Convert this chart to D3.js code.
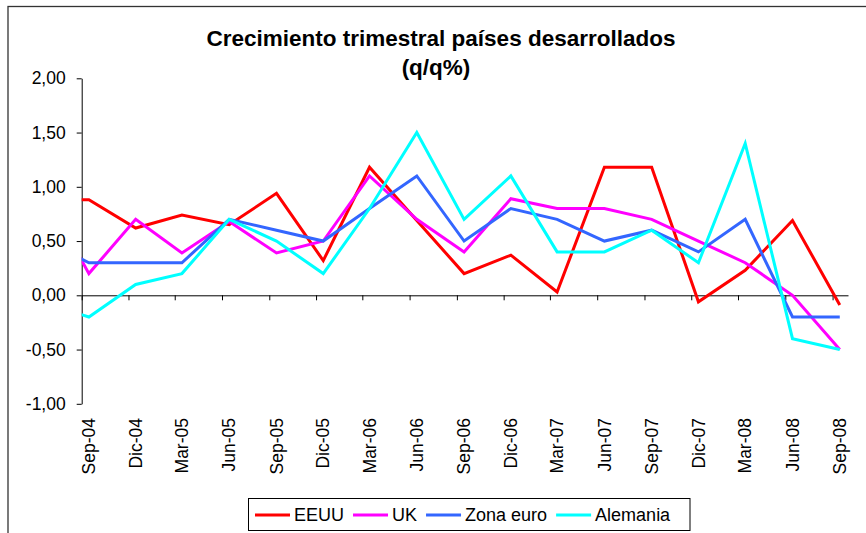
<!DOCTYPE html>
<html>
<head>
<meta charset="utf-8">
<script src="https://cdn.jsdelivr.net/npm/d3@7"></script>
<style>
  body { margin: 0; background: #fff; }
  svg { display: block; font-family: "Liberation Sans", Arial, sans-serif; }
</style>
</head>
<body>
<svg></svg>
<script>
var width = 866;
var height = 533;

// quarters (the first one sits before the axis start and is clipped)
var quarters = ["Jun-04","Sep-04","Dic-04","Mar-05","Jun-05","Sep-05","Dic-05","Mar-06","Jun-06",
                "Sep-06","Dic-06","Mar-07","Jun-07","Sep-07","Dic-07","Mar-08","Jun-08","Sep-08"];
var tickLabels = quarters.slice(1);
var yTicks = [-1, -0.5, 0, 0.5, 1, 1.5, 2];

var eeuu     = [0.88, 0.88, 0.62, 0.74, 0.65, 0.94, 0.32, 1.18, 0.69, 0.20, 0.37, 0.03, 1.18, 1.18, -0.06, 0.23, 0.69, -0.09];
var uk       = [1.00, 0.20, 0.70, 0.39, 0.68, 0.39, 0.50, 1.10, 0.70, 0.40, 0.89, 0.80, 0.80, 0.70, 0.50, 0.30, 0.00, -0.50];
var zonaEuro = [0.52, 0.30, 0.30, 0.30, 0.70, 0.60, 0.50, 0.80, 1.10, 0.50, 0.80, 0.70, 0.50, 0.60, 0.40, 0.70, -0.20, -0.20];
var alemania = [-0.06, -0.20, 0.10, 0.20, 0.70, 0.50, 0.20, 0.80, 1.50, 0.70, 1.10, 0.40, 0.40, 0.60, 0.30, 1.40, -0.40, -0.50];

var seriesNames = ["EEUU", "UK", "Zona euro", "Alemania"];
var seriesValues = [eeuu, uk, zonaEuro, alemania];
var colors = ["#ff0000", "#ff00ff", "#3366ff", "#00ffff"];

var monthIndex = {Mar: 2, Jun: 5, Sep: 8, Dic: 11};
function parseQuarter(s, day){
    var parts = s.split("-");
    return new Date(2000 + (+parts[1]), monthIndex[parts[0]], day);
}

var xScale = d3.scaleTime()
                .domain([new Date(2004, 8, 1), new Date(2008, 9, 1)])
                .range([81.7, 848]);
var yScale = d3.scaleLinear()
                .domain([-1, 2])
                .range([403.8, 78.3]);

var svg = d3.select("svg")
    .attr("width", width)
    .attr("height", height);

// outer frame
svg.append("rect")
    .attr("x", 8)
    .attr("y", 6.5)
    .attr("width", width)
    .attr("height", height)
    .attr("fill", "#fff")
    .attr("stroke", "#333")
    .attr("stroke-width", 1.3);

svg.append("defs").append("clipPath")
    .attr("id", "plot")
    .append("rect")
    .attr("x", xScale.range()[0])
    .attr("y", 0)
    .attr("width", xScale.range()[1] - xScale.range()[0])
    .attr("height", height);

// title
svg.append("text")
    .attr("x", 441)
    .attr("y", 46)
    .attr("text-anchor", "middle")
    .attr("font-weight", "bold")
    .attr("font-size", 22.5)
    .text("Crecimiento trimestral países desarrollados");
svg.append("text")
    .attr("x", 436)
    .attr("y", 75)
    .attr("text-anchor", "middle")
    .attr("font-weight", "bold")
    .attr("font-size", 22.5)
    .text("(q/q%)");

// y axis
var yAxis = d3.axisLeft(yScale)
                .tickValues(yTicks)
                .tickSize(5)
                .tickPadding(11)
                .tickSizeOuter(0)
                .tickFormat(d => d.toFixed(2).replace(".", ","));
var gy = svg.append("g")
    .attr("transform", `translate(${xScale.range()[0]},0)`)
    .call(yAxis);
gy.selectAll("text").attr("font-size", 17.5).attr("font-family", null).attr("fill", "#000");
gy.selectAll("line, path").attr("stroke", "#000");

// x axis at zero, tick marks at quarter starts
var xAxis = d3.axisBottom(xScale)
                .tickValues(tickLabels.map(q => parseQuarter(q, 1)))
                .tickSize(5)
                .tickSizeOuter(0)
                .tickFormat("");
var gx = svg.append("g")
    .attr("transform", `translate(0,${yScale(0)})`)
    .call(xAxis);
gx.selectAll("line, path").attr("stroke", "#000");

// rotated category labels
svg.append("g")
    .selectAll("text")
    .data(tickLabels)
    .enter()
    .append("text")
    .attr("transform", d => `translate(${xScale(parseQuarter(d, 15))},418) rotate(-90)`)
    .attr("dy", "0.35em")
    .attr("text-anchor", "end")
    .attr("font-size", 17.5)
    .text(d => d);

// lines
var line = d3.line()
    .x((d, i) => xScale(parseQuarter(quarters[i], 15)))
    .y(d => yScale(d));

svg.append("g")
    .attr("clip-path", "url(#plot)")
    .selectAll("path")
    .data(seriesValues)
    .enter()
    .append("path")
    .attr("d", d => line(d))
    .attr("fill", "none")
    .attr("stroke", (d, i) => colors[i])
    .attr("stroke-width", 3)
    .attr("stroke-linejoin", "miter");

// legend
var legend = svg.append("g");
legend.append("rect")
    .attr("x", 248.5)
    .attr("y", 498.5)
    .attr("width", 441.5)
    .attr("height", 32)
    .attr("fill", "#fff")
    .attr("stroke", "#000");

var lx = 255;
seriesNames.forEach(function(name, i){
    legend.append("line")
        .attr("x1", lx)
        .attr("x2", lx + 35)
        .attr("y1", 515)
        .attr("y2", 515)
        .attr("stroke", colors[i])
        .attr("stroke-width", 3);
    var t = legend.append("text")
        .attr("x", lx + 39)
        .attr("y", 515)
        .attr("dy", "0.35em")
        .attr("font-size", 18)
        .text(name);
    lx += 39 + t.node().getComputedTextLength() + 9;
});
</script>
</body>
</html>
